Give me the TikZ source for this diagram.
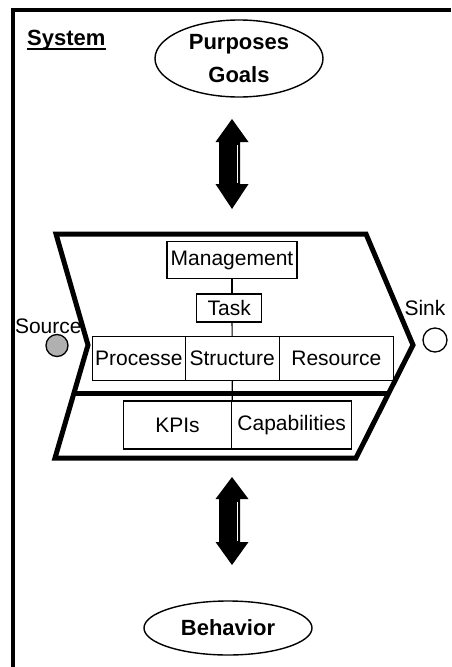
\documentclass[tikz,border=0pt]{standalone}
\usepackage{fontspec}
\setmainfont{Liberation Sans}
\usetikzlibrary{calc,shapes.geometric}
\begin{document}
\begin{tikzpicture}[x=1pt,y=-1pt,
  lbl/.style={font=\fontsize{21}{25}\selectfont, inner sep=0pt},
  boldlbl/.style={font=\fontsize{22}{33}\selectfont\bfseries, inner sep=0pt},
  cell/.style={draw, line width=1.1pt, inner sep=0pt, font=\fontsize{21}{25}\selectfont},
  oval/.style={draw, ellipse, line width=1.4pt, inner sep=0pt, align=center,
               font=\fontsize{22}{33}\selectfont\bfseries},
  rim/.style={line width=5pt, line join=miter},
  link/.style={line width=1.1pt},
  port/.style={circle, draw, line width=1.3pt, inner sep=0pt},
  bigarrow/.style={fill=black},
  glint/.style={draw=white, line width=0.8pt},
]
\useasboundingbox (0,0) rectangle (451,667);

% system boundary: only its top and left sides fall on the page
\coordinate (frameBL) at (13,667);
\coordinate (frameTL) at (13,10);
\coordinate (frameTR) at (451,10);
\draw[line width=3.3pt, line join=miter] (frameBL) -- (frameTL) -- (frameTR);
\node[boldlbl, anchor=base west] (sys) at (27,45) {System};
\draw[line width=2pt] ([yshift=-4pt]sys.base west) -- ([yshift=-4pt]sys.base east);

% purposes and behaviour
\node[oval, minimum width=168pt, minimum height=77pt] (goals) at (239,58.5) {Purposes\\Goals};
\node[oval, minimum width=168pt, minimum height=54pt] (beh) at (228,628) {Behavior};

% the system chevron
\coordinate (tl) at (56,234);
\coordinate (tr) at (366,234);
\coordinate (tip) at (413,345);
\coordinate (br) at (356,458);
\coordinate (bl) at (55,458);
\coordinate (notch) at (88,345);
\draw[rim] (tl) -- (tr) -- (tip) -- (br) -- (bl) -- (notch) -- cycle;
\draw[rim] ($(notch)!0.425!(bl)$) -- ($(tip)!0.425!(br)$);

% inner elements
\node[cell, minimum width=130pt, minimum height=36.5pt] (mgmt) at (232,260) {Management};
\node[cell, minimum width=65pt, minimum height=28pt] (task) at (229.2,308) {Task};
\node[cell, minimum width=92.3pt, minimum height=43.3pt] (proc) at (138.9,358.4) {Processe};
\node[cell, minimum width=94.3pt, minimum height=43.3pt] (struc) at (232.2,358.4) {Structure};
\node[cell, minimum width=114pt, minimum height=43.3pt] (res) at (336.3,358.4) {Resource};
\node[cell, minimum width=108.4pt, minimum height=48pt] (kpi) at (177.5,425) {KPIs};
\node[cell, minimum width=120pt, minimum height=48pt] (capa) at (291.7,425) {Capabilities};

\draw[link] (mgmt.south) -- (mgmt.south |- task.north);
\draw[link] (mgmt.south |- task.south) -- (struc.north);
\draw[link] (struc.south) -- (kpi.north east);

% source and sink
\node[port, fill=gray!62, minimum size=22pt] (src) at (57,345.5) {};
\node[lbl, anchor=base] (srclbl) at (48.3,333) {Source};
\node[port, minimum size=24pt] (sink) at (435,340) {};
\node[lbl, anchor=base] (sinklbl) at (425,315) {Sink};

% two-way arrows
\coordinate (upTip) at (232,119);
\coordinate (upEnd) at (232,209);
\fill[bigarrow] (upTip) -- ++(16.5,23) -- ++(-8.5,0) -- ++(0,42) -- ++(8.5,0) -- (upEnd)
  -- ++(-16.5,-25) -- ++(3.5,0) -- ++(0,-42) -- ++(-3.5,0) -- cycle;
\draw[glint] ($(upTip)+(5.5,26)$) -- ++(0,38);

\coordinate (loTip) at (232,477);
\coordinate (loEnd) at (232,565);
\fill[bigarrow] (loTip) -- ++(16.5,22) -- ++(-8.5,0) -- ++(0,43) -- ++(8.5,0) -- (loEnd)
  -- ++(-16.5,-23) -- ++(3.5,0) -- ++(0,-43) -- ++(-3.5,0) -- cycle;
\draw[glint] ($(loTip)+(5.5,25)$) -- ++(0,39);
\end{tikzpicture}
\end{document}
